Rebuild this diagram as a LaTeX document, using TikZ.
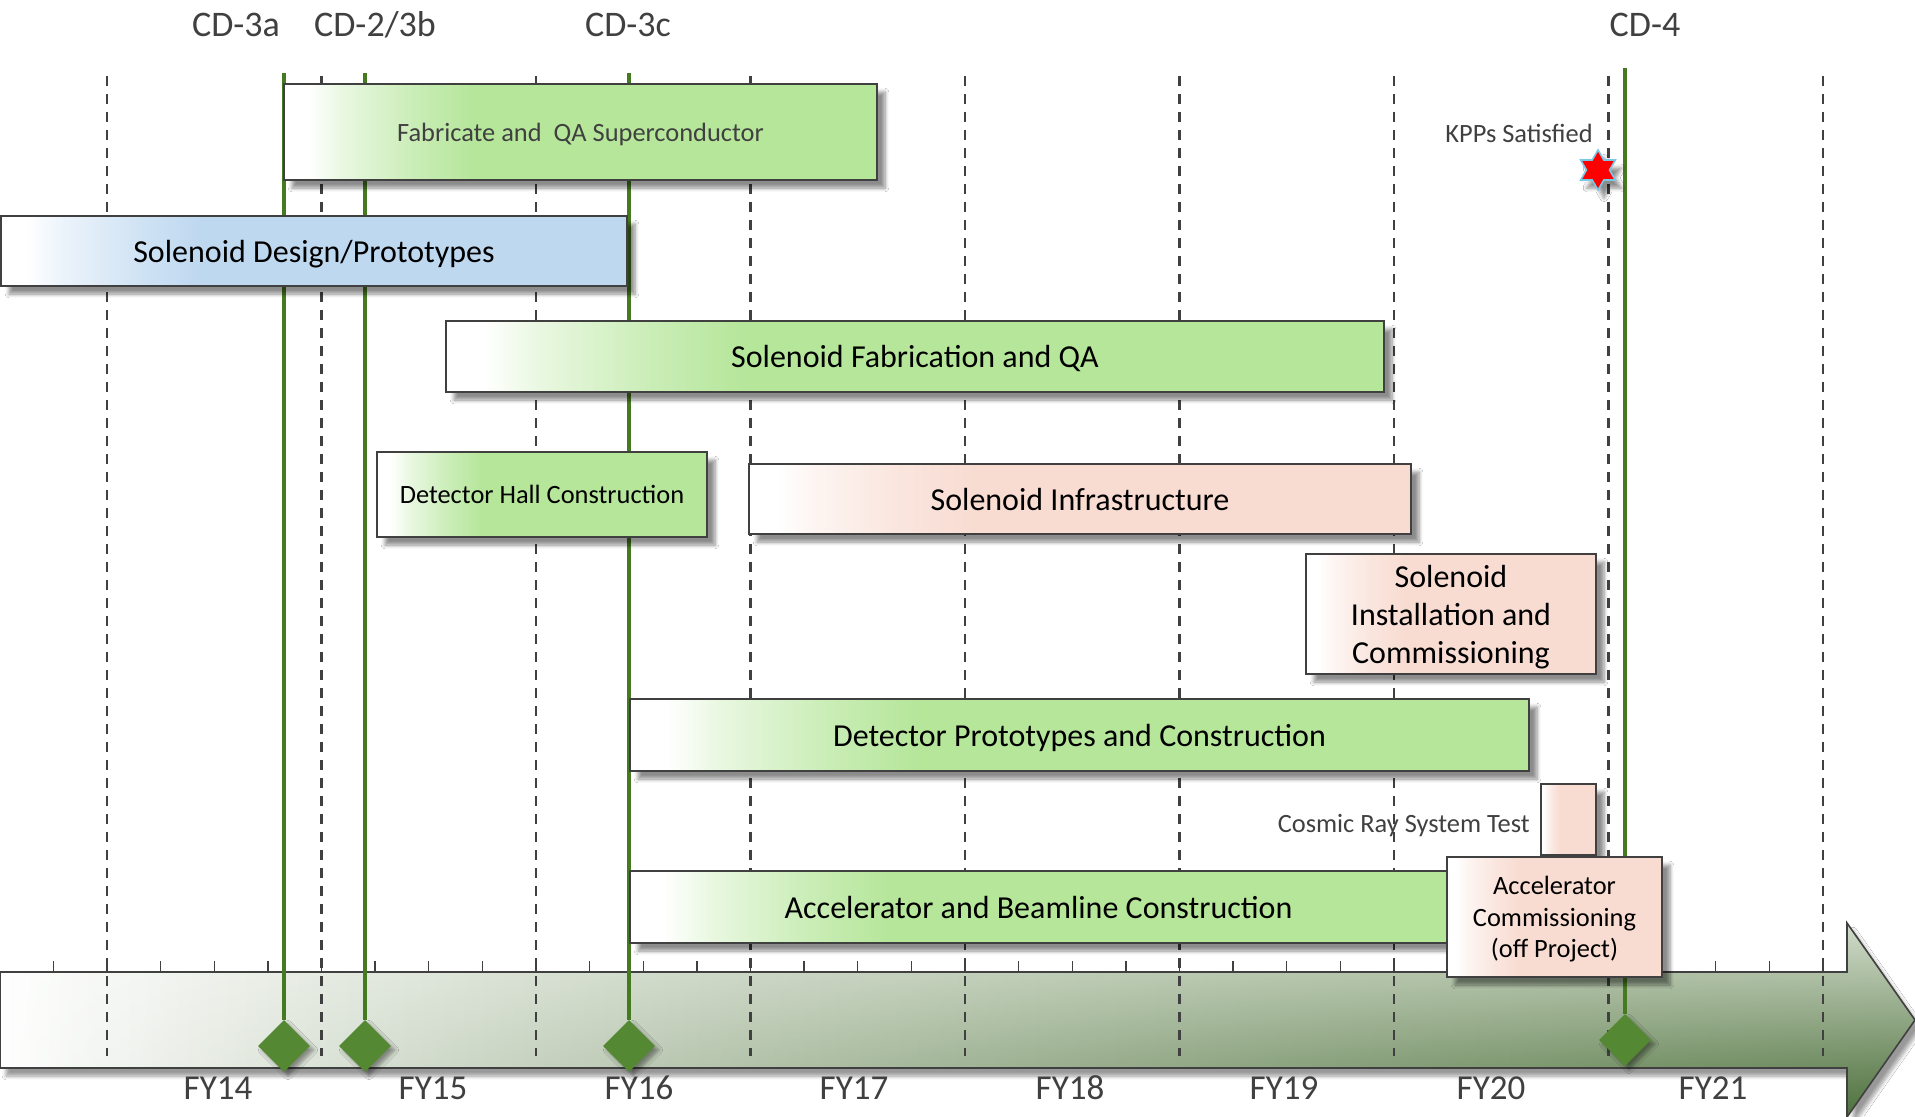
\documentclass[tikz,border=0pt]{standalone}
\usepackage{fontspec}
\setmainfont{Carlito}
\usetikzlibrary{shapes.geometric,shadows.blur,fadings}

\definecolor{taskgreen}{RGB}{181,230,154}
\definecolor{taskblue}{RGB}{190,216,240}
\definecolor{taskpink}{RGB}{248,220,210}
\definecolor{boxline}{RGB}{64,64,64}
\definecolor{txtgray}{RGB}{64,64,64}
\definecolor{msline}{RGB}{70,122,32}
\definecolor{msdiamond}{RGB}{84,136,50}
\definecolor{starblue}{RGB}{120,200,230}
\definecolor{barmid}{RGB}{192,204,184}
\definecolor{barright}{RGB}{130,158,110}
\definecolor{bardark}{RGB}{45,85,30}
\colorlet{gA}{taskgreen!30!white}
\colorlet{gB}{taskgreen!72!white}
\colorlet{bA}{taskblue!30!white}
\colorlet{bB}{taskblue!72!white}
\colorlet{pA}{taskpink!30!white}
\colorlet{pB}{taskpink!72!white}

\pgfdeclarehorizontalshading{gshade}{100bp}{color(0bp)=(white); color(25bp)=(white); color(27bp)=(white); color(30bp)=(gA); color(36bp)=(gB); color(41bp)=(taskgreen); color(100bp)=(taskgreen)}
\pgfdeclarehorizontalshading{bshade}{100bp}{color(0bp)=(white); color(25bp)=(white); color(27bp)=(white); color(30bp)=(bA); color(36bp)=(bB); color(41bp)=(taskblue); color(100bp)=(taskblue)}
\pgfdeclarehorizontalshading{pshade}{100bp}{color(0bp)=(white); color(25bp)=(white); color(27bp)=(white); color(30bp)=(pA); color(36bp)=(pB); color(42bp)=(taskpink); color(100bp)=(taskpink)}

\tikzfading[name=fadeR, left color=transparent!100, right color=transparent!35]

\tikzset{
  softshadow/.style={blur shadow={shadow xshift=4pt, shadow yshift=-4pt, shadow blur steps=6, shadow opacity=45}},
  taskbase/.style={draw=boxline, line width=1pt, inner sep=0pt, align=center, text=black, text depth=0pt,
    font=\fontsize{16}{19}\selectfont, softshadow},
  greentask/.style={taskbase, shade, shading=gshade},
  bluetask/.style={taskbase, shade, shading=bshade},
  pinktask/.style={taskbase, shade, shading=pshade},
  smalltext/.style={font=\fontsize{13.2}{15.8}\selectfont},
  cdlabel/.style={font=\fontsize{18}{21}\selectfont, text=txtgray, inner sep=0pt},
  fylabel/.style={font=\fontsize{17.5}{21}\selectfont, text=txtgray, inner sep=0pt},
  note/.style={font=\fontsize{13.2}{16}\selectfont, text=txtgray, inner sep=0pt, text depth=0pt},
  gridline/.style={draw=boxline, line width=1.3pt, dash pattern=on 5pt off 4pt},
  tickline/.style={draw=boxline, line width=0.7pt},
  msl/.style={draw=msline, line width=2.2pt},
  msdia/.style={diamond, aspect=1, fill=msdiamond, minimum width=26pt, minimum height=26pt, inner sep=0pt,
    blur shadow={shadow xshift=2pt, shadow yshift=-2pt, shadow blur steps=5, shadow opacity=40}},
}

\begin{document}
\begin{tikzpicture}[x=0.5pt,y=0.5pt]
\useasboundingbox (0,0) rectangle (1915,-1116);
\fill[white] (0,0) rectangle (1915,-1116);

% time axis arrow
\def\barpath{(0,-972) -- (1847,-972) -- (1847,-923) -- (1915,-1020) -- (1847,-1117) -- (1847,-1068) -- (0,-1068) -- cycle}
\path[blur shadow={shadow xshift=3pt, shadow yshift=-4pt, shadow blur steps=6, shadow opacity=40},
      left color=white, middle color=barmid, right color=barright] \barpath;
\shade[top color=white, bottom color=bardark, path fading=fadeR] \barpath;
\draw[boxline, line width=0.8pt] \barpath;

% quarter ticks
\foreach \k in {-1,...,32} \draw[tickline] ({107+53.625*\k},-961) -- ({107+53.625*\k},-972);

% year grid lines
\foreach \k in {0,...,8} \draw[gridline] ({107+214.5*\k},-76) -- ({107+214.5*\k},-1056);

% FY labels
\node[fylabel] (fy14) at (218,-1088) {FY14};
\node[fylabel] (fy15) at (433,-1088) {FY15};
\node[fylabel] (fy16) at (639,-1088) {FY16};
\node[fylabel] (fy17) at (854,-1088) {FY17};
\node[fylabel] (fy18) at (1070,-1088) {FY18};
\node[fylabel] (fy19) at (1284,-1088) {FY19};
\node[fylabel] (fy20) at (1491,-1088) {FY20};
\node[fylabel] (fy21) at (1713,-1088) {FY21};

% milestone labels
\node[cdlabel] (cd3a) at (236,-25) {CD-3a};
\node[cdlabel] (cd2b) at (375,-25) {CD-2/3b};
\node[cdlabel] (cd3c) at (628,-25) {CD-3c};
\node[cdlabel] (cd4) at (1645,-25) {CD-4};

% milestone lines and diamonds
\node[msdia] (d3a) at (284,-1046) {};
\node[msdia] (d2b) at (365,-1046) {};
\node[msdia] (d3c) at (629,-1046) {};
\node[msdia] (d4) at (1625,-1040) {};
\coordinate (t3a) at (284,-73);
\coordinate (t2b) at (365,-73);
\coordinate (t3c) at (629,-73);
\coordinate (t4) at (1625,-68);
\draw[msl] (t3a) -- (d3a.north);
\draw[msl] (t2b) -- (d2b.north);
\draw[msl] (t3c) -- (d3c.north);
\draw[msl] (t4) -- (d4.north);

% task bars
\node[greentask, minimum width=296.5pt, minimum height=48pt, text=txtgray, smalltext] (fab)
  at (580.5,-132) {Fabricate and\ \ QA Superconductor};
\node[bluetask, minimum width=313pt, minimum height=35pt] (design)
  at (314,-251) {Solenoid Design/Prototypes};
\node[greentask, minimum width=469pt, minimum height=35.5pt] (solfab)
  at (915,-356.5) {Solenoid Fabrication and QA};
\node[greentask, minimum width=165pt, minimum height=42.5pt, smalltext] (hall)
  at (542,-494.5) {Detector Hall Construction};
\node[pinktask, minimum width=331pt, minimum height=35pt] (infra)
  at (1080,-499) {Solenoid Infrastructure};
\node[pinktask, minimum width=145pt, minimum height=60pt] (install)
  at (1451,-614) {Solenoid\\Installation and\\Commissioning};
\node[greentask, minimum width=449.5pt, minimum height=36pt] (detproto)
  at (1079.5,-735) {Detector Prototypes and Construction};
\node[pinktask, minimum width=27.5pt, minimum height=35.5pt] (cosmic)
  at (1568.5,-819.5) {};
\node[greentask, minimum width=408.5pt, minimum height=36pt] (accel)
  at (1038.5,-907) {Accelerator and Beamline Construction};
\node[pinktask, minimum width=107.5pt, minimum height=60pt, smalltext] (acccomm)
  at (1554.5,-917) {Accelerator\\Commissioning\\(off Project)};

% notes
\node[note, anchor=east] (cosmiclbl) at (1530,-823) {Cosmic Ray System Test};
\node[note, anchor=east] (kpplbl) at (1593,-133) {KPPs Satisfied};
\node[star, star points=6, star point ratio=1.73, minimum size=20pt, inner sep=0pt,
      fill=red, draw=starblue, line width=0.8pt,
      blur shadow={shadow xshift=3pt, shadow yshift=-4pt, shadow blur steps=5, shadow opacity=45}] (kpp) at (1598,-170) {};
\end{tikzpicture}
\end{document}
